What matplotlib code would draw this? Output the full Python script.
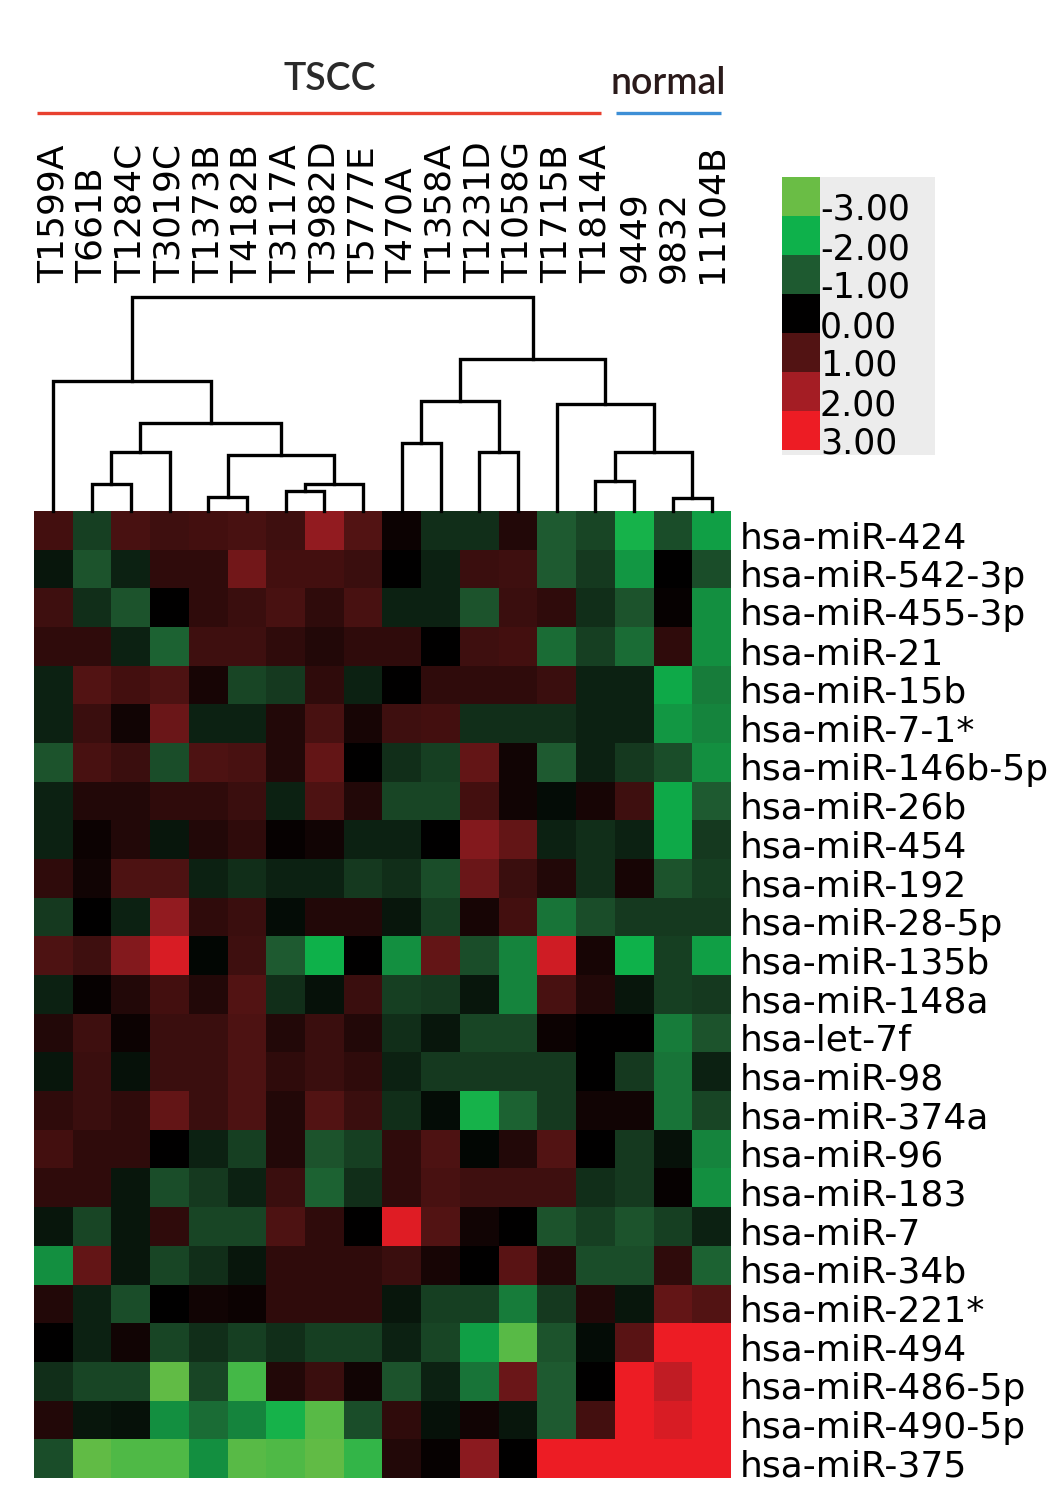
import numpy as np
import matplotlib
matplotlib.use("Agg")
import matplotlib.pyplot as plt
from matplotlib.colors import LinearSegmentedColormap, Normalize
from matplotlib.transforms import blended_transform_factory
from matplotlib.patches import Rectangle

samples = ["T1599A", "T661B", "T1284C", "T3019C", "T1373B", "T4182B", "T3117A",
           "T3982D", "T5777E", "T470A", "T1358A", "T1231D", "T1058G", "T1715B",
           "T1814A", "9449", "9832", "11104B"]

mirnas = ["hsa-miR-424", "hsa-miR-542-3p", "hsa-miR-455-3p", "hsa-miR-21",
          "hsa-miR-15b", "hsa-miR-7-1*", "hsa-miR-146b-5p", "hsa-miR-26b",
          "hsa-miR-454", "hsa-miR-192", "hsa-miR-28-5p", "hsa-miR-135b",
          "hsa-miR-148a", "hsa-let-7f", "hsa-miR-98", "hsa-miR-374a",
          "hsa-miR-96", "hsa-miR-183", "hsa-miR-7", "hsa-miR-34b",
          "hsa-miR-221*", "hsa-miR-494", "hsa-miR-486-5p", "hsa-miR-490-5p",
          "hsa-miR-375"]

values = [
    [0.7, -0.6, 0.8, 0.6, 0.7, 0.8, 0.6, 1.8, 1.0, 0.1, -0.4, -0.4, 0.3, -1.0, -0.7, -2.1, -0.8, -1.8],
    [-0.2, -0.9, -0.3, 0.4, 0.4, 1.4, 0.7, 0.7, 0.5, 0.0, -0.3, 0.5, 0.6, -1.0, -0.5, -1.7, 0.0, -0.8],
    [0.6, -0.4, -0.9, 0.0, 0.4, 0.5, 0.8, 0.4, 0.8, -0.3, -0.3, -0.9, 0.5, 0.4, -0.4, -0.9, 0.05, -1.6],
    [0.4, 0.4, -0.3, -1.1, 0.6, 0.6, 0.4, 0.3, 0.4, 0.4, 0.0, 0.6, 0.7, -1.2, -0.6, -1.2, 0.4, -1.6],
    [-0.3, 1.0, 0.7, 0.9, 0.2, -0.7, -0.5, 0.4, -0.3, 0.0, 0.4, 0.4, 0.4, 0.5, -0.3, -0.3, -1.9, -1.4],
    [-0.3, 0.5, 0.15, 1.3, -0.3, -0.3, 0.3, 0.8, 0.2, 0.6, 0.7, -0.4, -0.4, -0.4, -0.3, -0.3, -1.7, -1.5],
    [-0.9, 0.8, 0.5, -0.8, 0.9, 0.8, 0.3, 1.2, 0.0, -0.4, -0.6, 1.2, 0.15, -1.0, -0.3, -0.5, -0.8, -1.6],
    [-0.3, 0.3, 0.3, 0.4, 0.4, 0.5, -0.3, 0.9, 0.3, -0.7, -0.7, 0.7, 0.15, -0.1, 0.2, 0.6, -1.9, -1.0],
    [-0.3, 0.1, 0.3, -0.2, 0.3, 0.4, 0.05, 0.15, -0.3, -0.3, 0.0, 1.6, 1.2, -0.3, -0.4, -0.3, -1.9, -0.5],
    [0.4, 0.15, 0.9, 0.9, -0.3, -0.4, -0.3, -0.3, -0.5, -0.4, -0.8, 1.3, 0.5, 0.3, -0.4, 0.2, -0.9, -0.6],
    [-0.5, 0.0, -0.3, 1.8, 0.4, 0.5, -0.1, 0.3, 0.3, -0.2, -0.6, 0.2, 0.7, -1.3, -0.8, -0.5, -0.5, -0.5],
    [0.9, 0.6, 1.6, 2.7, -0.05, 0.6, -1.0, -2.0, 0.0, -1.6, 1.2, -0.8, -1.5, 2.6, 0.2, -2.0, -0.6, -1.8],
    [-0.3, 0.05, 0.3, 0.7, 0.3, 1.0, -0.4, -0.15, 0.5, -0.6, -0.5, -0.2, -1.5, 0.8, 0.3, -0.2, -0.6, -0.5],
    [0.3, 0.6, 0.1, 0.5, 0.5, 0.9, 0.3, 0.5, 0.3, -0.4, -0.2, -0.7, -0.7, 0.1, 0.0, 0.0, -1.4, -0.9],
    [-0.2, 0.5, -0.15, 0.5, 0.5, 0.9, 0.4, 0.5, 0.4, -0.3, -0.5, -0.5, -0.5, -0.5, 0.0, -0.5, -1.3, -0.3],
    [0.4, 0.5, 0.4, 1.2, 0.5, 0.9, 0.3, 1.0, 0.5, -0.4, -0.1, -2.1, -1.1, -0.5, 0.15, 0.15, -1.3, -0.7],
    [0.7, 0.4, 0.4, 0.0, -0.3, -0.6, 0.3, -0.9, -0.6, 0.4, 0.9, -0.05, 0.3, 1.0, 0.0, -0.5, -0.15, -1.5],
    [0.4, 0.4, -0.2, -0.8, -0.5, -0.3, 0.5, -1.1, -0.4, 0.4, 0.8, 0.6, 0.6, 0.6, -0.4, -0.5, 0.05, -1.6],
    [-0.2, -0.7, -0.2, 0.4, -0.7, -0.7, 0.9, 0.4, 0.0, 2.8, 1.0, 0.15, 0.0, -0.9, -0.6, -0.9, -0.6, -0.3],
    [-1.6, 1.2, -0.2, -0.7, -0.4, -0.2, 0.4, 0.4, 0.4, 0.5, 0.2, 0.0, 1.1, 0.3, -0.8, -0.8, 0.4, -1.1],
    [0.3, -0.3, -0.8, 0.0, 0.15, 0.1, 0.4, 0.4, 0.4, -0.2, -0.6, -0.6, -1.4, -0.5, 0.3, -0.2, 1.2, 1.0],
    [0.0, -0.3, 0.15, -0.7, -0.4, -0.6, -0.4, -0.6, -0.6, -0.3, -0.7, -1.8, -2.8, -0.9, -0.1, 1.1, 3.0, 3.0],
    [-0.4, -0.7, -0.7, -2.9, -0.7, -2.6, 0.3, 0.5, 0.15, -0.9, -0.3, -1.3, 1.3, -1.0, 0.0, 3.0, 2.4, 3.0],
    [0.3, -0.2, -0.15, -1.6, -1.2, -1.5, -2.1, -2.8, -0.8, 0.4, -0.15, 0.15, -0.2, -1.0, 0.7, 3.0, 2.7, 3.0],
    [-0.8, -2.9, -2.7, -2.7, -1.6, -2.8, -2.7, -2.9, -2.4, 0.3, 0.05, 1.7, 0.0, 3.0, 3.0, 3.0, 3.0, 3.0],
]

# dendrogram merges: (child_a, child_b, height); leaves 0..17, new nodes from 18
merges = [
    (1, 2, 0.27), (4, 5, 0.14), (6, 7, 0.20), (20, 8, 0.27), (18, 3, 0.59),
    (19, 21, 0.56), (22, 23, 0.88), (0, 24, 1.30), (9, 10, 0.68), (11, 12, 0.59),
    (26, 27, 1.10), (14, 15, 0.30), (16, 17, 0.13), (29, 30, 0.59), (13, 31, 1.07),
    (28, 32, 1.52), (25, 33, 2.14),
]

legend_levels = [-3, -2, -1, 0, 1, 2, 3]
legend_labels = ["-3.00", "-2.00", "-1.00", "0.00", "1.00", "2.00", "3.00"]

cmap = LinearSegmentedColormap.from_list(
    "gkr",
    [(0.0, "#6abd45"), (1 / 6, "#0db14b"), (2 / 6, "#1e5a30"), (5 / 12, "#15391f"),
     (0.5, "#000000"),
     (7 / 12, "#3a0e0e"), (4 / 6, "#521313"), (5 / 6, "#a31d24"), (1.0, "#ed1c24")])
norm = Normalize(-3, 3)

W, H = 1063, 1488
fig = plt.figure(figsize=(W / 100, H / 100), dpi=100)
fig.patch.set_facecolor("white")


def fr(x0, y0, x1, y1):
    return [x0 / W, 1 - y1 / H, (x1 - x0) / W, (y1 - y0) / H]


FS = 26
# heatmap
hx0, hy0, hx1, hy1 = 34, 511, 731, 1478
ax = fig.add_axes(fr(hx0, hy0, hx1, hy1))
data = np.array(values)
ax.imshow(data, cmap=cmap, norm=norm, aspect="auto", interpolation="nearest")
ax.set_axis_off()

tr_row = blended_transform_factory(ax.transAxes, ax.transData)
for i, name in enumerate(mirnas):
    ax.text((740 - hx0) / (hx1 - hx0), i + 0.2, name, transform=tr_row,
            ha="left", va="center", fontsize=FS, family="DejaVu Sans", color="black")

tr_col = blended_transform_factory(ax.transData, ax.transAxes)
ylab = (hy1 - 283) / (hy1 - hy0)
for j, name in enumerate(samples):
    ax.text(j, ylab, name, transform=tr_col, rotation=90, ha="center", va="bottom",
            fontsize=FS, family="DejaVu Sans", color="black")

# dendrogram
axd = fig.add_axes(fr(hx0, 290, hx1, hy0))
n = len(samples)
pos = {k: k + 0.5 for k in range(n)}
hgt = {k: 0.0 for k in range(n)}
for idx, (a, b, h) in enumerate(merges):
    node = n + idx
    xa, xb = pos[a], pos[b]
    axd.plot([xa, xa, xb, xb], [hgt[a], h, h, hgt[b]], color="black", lw=2.4,
             solid_joinstyle="miter", solid_capstyle="projecting", clip_on=False)
    pos[node] = (xa + xb) / 2
    hgt[node] = h
axd.set_xlim(0, n)
axd.set_ylim(0, 2.21)
axd.set_axis_off()

# group annotation
fig.text(330 / W, 1 - 80 / H, "TSCC", ha="center", va="center", fontsize=27,
         family="Lato", fontweight="semibold", color="#2a2a2a")
fig.text(668 / W, 1 - 84 / H, "normal", ha="center", va="center", fontsize=27,
         family="Lato", fontweight="semibold", color="#2a1a1a")
axg = fig.add_axes([0, 0, 1, 1])
axg.set_xlim(0, W)
axg.set_ylim(H, 0)
axg.set_axis_off()
axg.plot([37, 601], [113, 113], color="#e8402f", lw=2.4, solid_capstyle="butt")
axg.plot([616, 721], [113, 113], color="#3d8fd6", lw=2.4, solid_capstyle="butt")

# legend
axg.add_patch(Rectangle((782, 177), 153, 278, facecolor="#ececec", edgecolor="none"))
bx0, by0, bh, bw = 782, 177, 39, 38
for k, lv in enumerate(legend_levels):
    axg.add_patch(Rectangle((bx0, by0 + k * bh), bw, bh,
                            facecolor=cmap(norm(lv)), edgecolor="none"))
    axg.text(bx0 + bw, by0 + (k + 1) * bh - 6, legend_labels[k], ha="left", va="center",
             fontsize=25, color="black")

fig.savefig("out.png", dpi=100, facecolor="white")
